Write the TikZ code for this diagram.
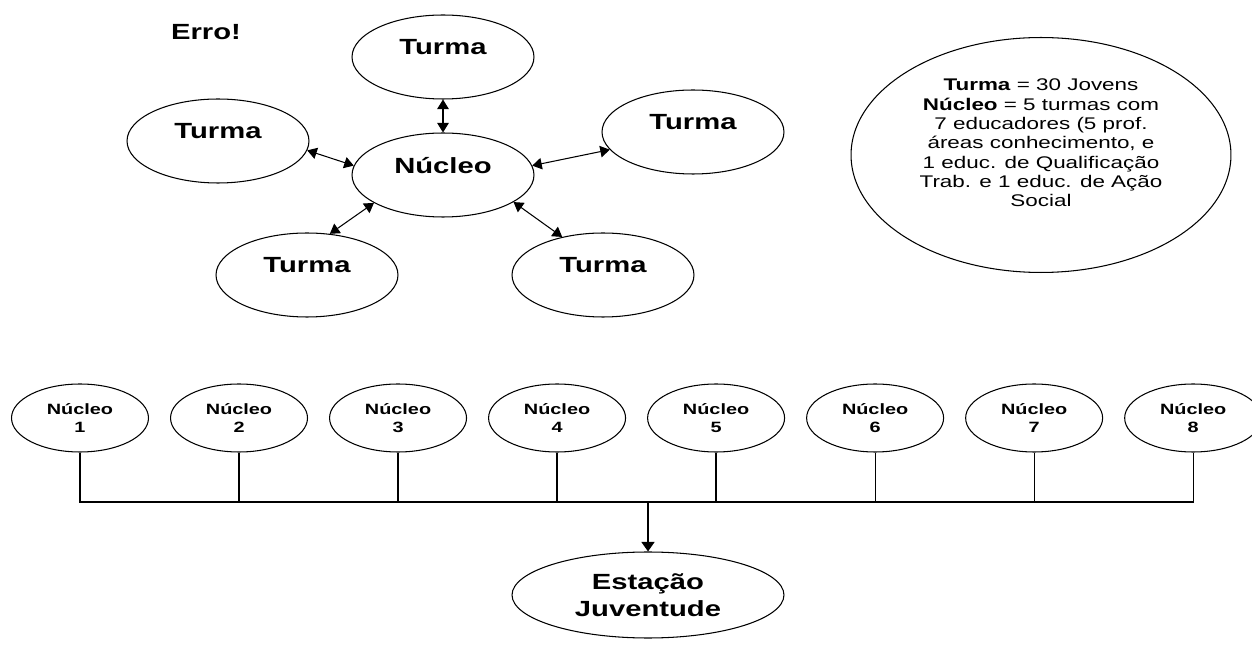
\documentclass[tikz,border=0pt]{standalone}
\usepackage{fontspec}
\setmainfont{Liberation Sans}[FakeStretch = 1.33]
\usetikzlibrary{positioning, arrows.meta, shapes.geometric}
\tikzset{
every node/.style = {font = \fontsize{12.5}{15}\selectfont\bfseries},
turma/.style = {ellipse, draw, line width = 0.6pt, inner sep = 2pt, minimum width = 3.64cm,
	minimum height = 1.68cm, text depth = 0.4cm},
nucleo/.style = {ellipse, draw, line width = 0.6pt, inner sep = 1pt, minimum width = 2.74cm,
	minimum height = 1.36cm, align = center, font = \fontsize{8.5}{10}\selectfont\bfseries},
estacao/.style = {ellipse, draw, line width = 0.6pt, inner sep = 1pt, minimum width = 5.44cm,
	minimum height = 1.72cm, align = center, font = \fontsize{12.5}{15.2}\selectfont\bfseries},
legenda/.style = {ellipse, draw, line width = 0.6pt, inner sep = 1pt, minimum width = 7.6cm,
	minimum height = 4.7cm, align = center, font = \fontsize{9.6}{11}\selectfont, text depth = 0.48cm},
troca/.style = {{Triangle[length = 1.9mm, width = 2.3mm]}-{Triangle[length = 1.9mm, width = 2.3mm]},
	line width = 0.6pt},
ligacao/.style = {line width = 0.7pt},
desce/.style = {-{Triangle[length = 1.9mm, width = 2.6mm]}, line width = 0.7pt}
}

\begin{document}
\begin{tikzpicture}[x = 0.02cm, y = -0.02cm]
\useasboundingbox (0,0) rectangle (1252,648);

%% The classes around one nucleus
\node (erro) at (206,32) {Erro!};
\node [turma] (NC) at (443,175) {Núcleo};
\node [turma] (T1) at (443,57) {Turma};
\node [turma] (T2) at (218,141) {Turma};
\node [turma] (T3) at (693,132) {Turma};
\node [turma] (T4) at (307,275) {Turma};
\node [turma] (T5) at (603,275) {Turma};

%% The exchanges
\path [troca] (T1) edge (NC);
\path [troca] (T2.-6) edge (NC.174);
\path [troca] (T3.192) edge (NC.6);
\path [troca] (T4.61) edge (NC.202);
\path [troca] (T5.137) edge (NC.-21);

%% The legend
\node [legenda] (leg) at (1041,155) {\textbf{Turma} = 30 Jovens\\\textbf{Núcleo} = 5 turmas com\\
	7 educadores (5 prof.\\áreas conhecimento, e\\1 educ. de Qualificação\\
	Trab. e 1 educ. de Ação\\Social};

%% The eight nuclei
\node [nucleo] (N1) at (80,418) {Núcleo\\1};
\node [nucleo] (N2) [right = 0.42cm of N1] {Núcleo\\2};
\node [nucleo] (N3) [right = 0.42cm of N2] {Núcleo\\3};
\node [nucleo] (N4) [right = 0.42cm of N3] {Núcleo\\4};
\node [nucleo] (N5) [right = 0.42cm of N4] {Núcleo\\5};
\node [nucleo] (N6) [right = 0.42cm of N5] {Núcleo\\6};
\node [nucleo] (N7) [right = 0.42cm of N6] {Núcleo\\7};
\node [nucleo] (N8) [right = 0.42cm of N7] {Núcleo\\8};
\node [estacao] (EJ) at (648,595) {Estação\\Juventude};

%% The bus
\coordinate (bus) at (648,502);
\draw [ligacao] (N1.south) -- (N1.south |- bus) -- (N8.south |- bus) -- (N8.south);
\draw [ligacao] (N2.south) -- (N2.south |- bus);
\draw [ligacao] (N3.south) -- (N3.south |- bus);
\draw [ligacao] (N4.south) -- (N4.south |- bus);
\draw [ligacao] (N5.south) -- (N5.south |- bus);
\draw [ligacao] (N6.south) -- (N6.south |- bus);
\draw [ligacao] (N7.south) -- (N7.south |- bus);
\draw [desce] (bus) -- (EJ);

\end{tikzpicture}
\end{document}
